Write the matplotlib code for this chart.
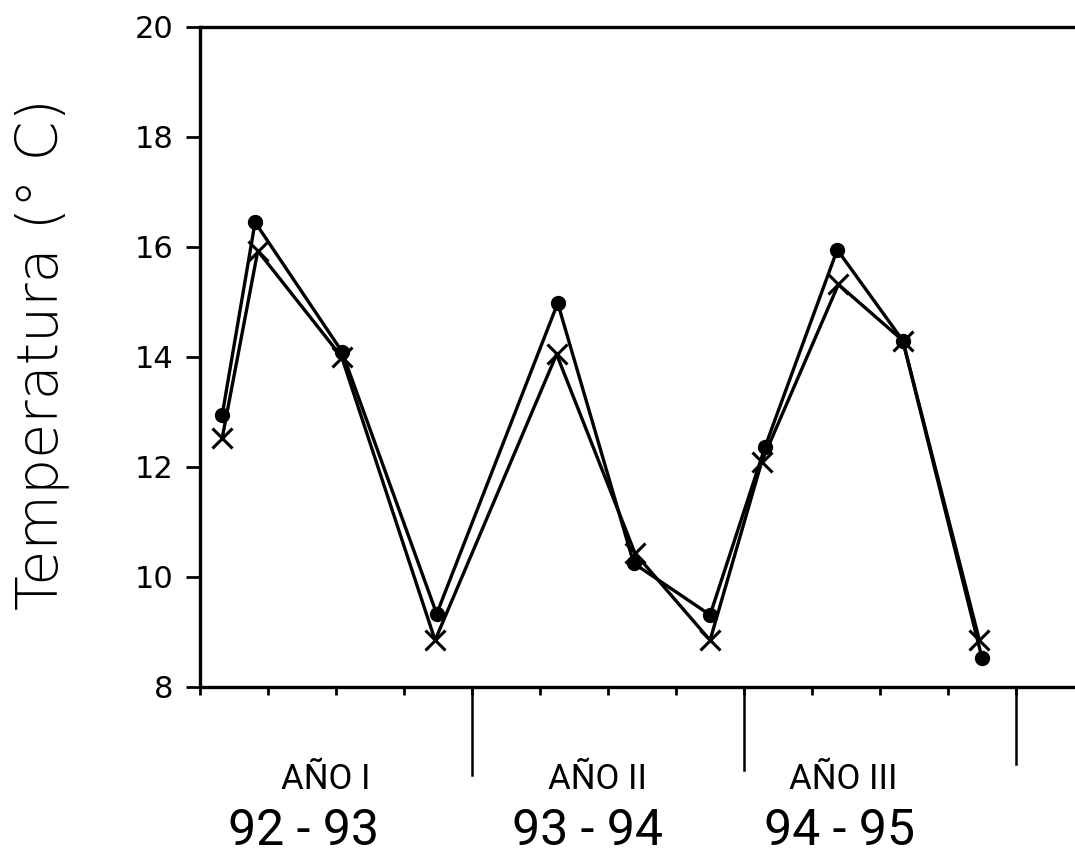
import matplotlib
matplotlib.use("Agg")
import matplotlib.pyplot as plt

# Data (x in months from start of year I, y in degrees C)
dots_x = [0.98, 2.43, 6.26, 10.44, 15.78, 19.13, 22.5, 24.93, 28.11, 31.0, 34.5]
dots_y = [12.95, 16.45, 14.1, 9.33, 14.98, 10.25, 9.31, 12.37, 15.95, 14.3, 8.52]
cross_x = [0.98, 2.55, 6.25, 10.37, 15.73, 19.19, 22.5, 24.78, 28.16, 31.0, 34.38]
cross_y = [12.53, 15.93, 14.0, 8.85, 14.05, 10.43, 8.85, 12.1, 15.32, 14.3, 8.85]

y_ticks = [8, 10, 12, 14, 16, 18, 20]
x_ticks = list(range(0, 37, 3))
year_bounds = [12, 24, 36]
year_names = ["AÑO I", "AÑO II", "AÑO III"]
year_ranges = ["92 - 93", "93 - 94", "94 - 95"]

W, H = 1075, 860
fig = plt.figure(figsize=(W / 100, H / 100), dpi=100)
ax_w = 1 - 200 / W + 0.01
ax = fig.add_axes([200 / W, 1 - 687 / H, ax_w, (687 - 27) / H])

ax.plot(dots_x, dots_y, color="black", lw=2.4, marker="o", ms=10,
        mfc="black", mec="black")
ax.plot(cross_x, cross_y, color="black", lw=2.4, marker="x", ms=15,
        mew=2.2, mec="black")

ax.set_ylim(8, 20)
ax.set_xlim(0, ax_w * W / 22.67)
ax.set_yticks(y_ticks)
ax.set_yticklabels([str(v) for v in y_ticks], fontsize=22, family="DejaVu Sans")
ax.set_xticks(x_ticks)
ax.set_xticklabels([])
ax.tick_params(axis="y", direction="out", length=10, width=2, pad=9)
ax.tick_params(axis="x", direction="out", length=6, width=2)

for s in ["left", "top", "bottom"]:
    ax.spines[s].set_linewidth(2.4)
ax.spines["right"].set_visible(False)

# year separators below axis
sep_len = [6.4, 6.5, 6.6]
for xb, yl in zip(year_bounds, sep_len):
    ax.plot([xb, xb], [8, yl], color="black", lw=1.8, clip_on=False)

ax.set_ylabel("Temperatura (° C)", fontsize=41, family="DejaVu Sans",
              fontweight="light")
ax.yaxis.set_label_coords(-0.148, 0.505)

name_cx = [326, 598, 843]
range_cx = [303, 588, 840]
for nm, rg, cx1, cx2 in zip(year_names, year_ranges, name_cx, range_cx):
    fig.text(cx1 / W, 1 - 789 / H, nm, fontsize=25, ha="center",
             va="baseline", family="Roboto")
    fig.text(cx2 / W, 1 - 845 / H, rg, fontsize=36, ha="center",
             va="baseline", family="Roboto")

fig.savefig("out.png", dpi=100)
